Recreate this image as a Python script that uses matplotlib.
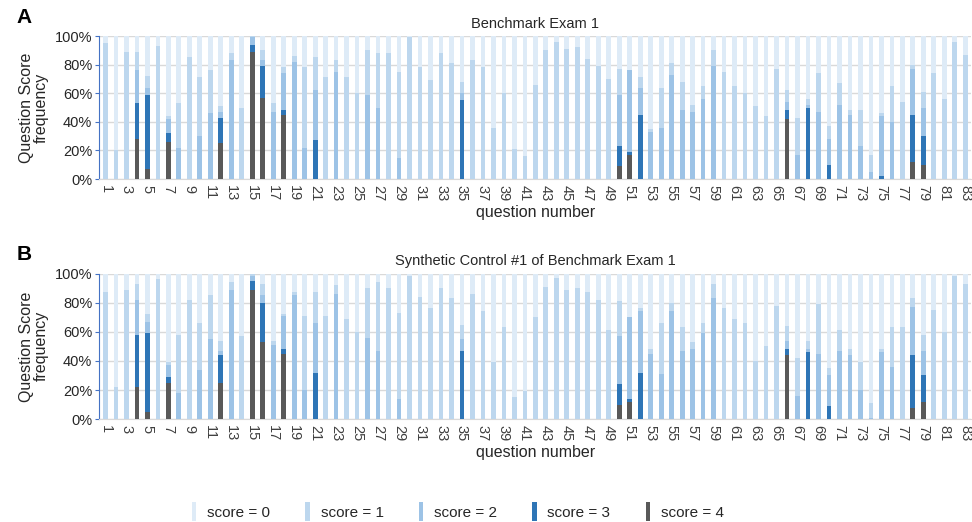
import matplotlib
matplotlib.use("Agg")
import matplotlib.pyplot as plt
from matplotlib.patches import Patch
import numpy as np

plt.rcParams["font.family"] = ["Liberation Sans", "DejaVu Sans"]

questions = list(range(1, 84))
score_labels = ["score = 0", "score = 1", "score = 2", "score = 3", "score = 4"]
colors = ["#deebf7", "#bdd7ee", "#9dc3e6", "#2e75b6", "#595959"]

# % of students per question, panel A (Benchmark Exam 1)
a_s4 = [0, 0, 0, 28, 7, 0, 26, 0, 0, 0, 0, 25, 0, 0, 89, 57, 0, 45, 0, 0,
        0, 0, 0, 0, 0, 0, 0, 0, 0, 0, 0, 0, 0, 0, 0, 0, 0, 0, 0, 0,
        0, 0, 0, 0, 0, 0, 0, 0, 0, 9, 17, 0, 0, 0, 0, 0, 0, 0, 0, 0,
        0, 0, 0, 0, 0, 42, 0, 0, 0, 0, 0, 0, 0, 0, 0, 0, 0, 12, 10, 0,
        0, 0, 0]
a_s3 = [0, 0, 0, 25, 52, 0, 6, 0, 0, 0, 0, 18, 0, 0, 5, 22, 0, 3, 0, 0,
        27, 0, 0, 0, 0, 0, 0, 0, 0, 0, 0, 0, 0, 0, 55, 0, 0, 0, 0, 0,
        0, 0, 0, 0, 0, 0, 0, 0, 0, 14, 2, 45, 0, 0, 0, 0, 0, 0, 0, 0,
        0, 0, 0, 0, 0, 6, 0, 50, 0, 10, 0, 0, 0, 0, 2, 0, 0, 33, 20, 0,
        0, 0, 0]
a_s2 = [0, 0, 0, 23, 5, 0, 10, 22, 0, 30, 46, 4, 83, 0, 5, 4, 47, 26, 82, 22,
        35, 0, 75, 0, 0, 59, 50, 0, 15, 0, 0, 0, 0, 0, 5, 0, 0, 0, 0, 0,
        0, 0, 0, 0, 0, 0, 0, 0, 0, 36, 57, 19, 33, 36, 73, 48, 47, 56, 79, 0,
        0, 0, 0, 0, 0, 6, 17, 2, 47, 18, 52, 45, 23, 5, 42, 40, 0, 32, 20, 0,
        0, 0, 0]
a_s1 = [95, 20, 89, 13, 8, 93, 2, 31, 85, 41, 30, 4, 5, 50, 1, 7, 6, 4, 4, 56,
        23, 71, 8, 71, 60, 31, 38, 88, 60, 99, 78, 69, 88, 81, 8, 83, 78, 36, 60, 21,
        16, 66, 90, 96, 91, 92, 84, 79, 70, 18, 0, 7, 2, 28, 8, 20, 5, 9, 11, 75,
        65, 60, 51, 44, 77, 8, 26, 4, 27, 9, 15, 3, 25, 12, 2, 25, 54, 3, 11, 74,
        56, 96, 87]

# panel B (Synthetic Control #1)
b_s4 = [0, 0, 0, 22, 5, 0, 25, 0, 0, 0, 0, 25, 0, 0, 89, 53, 0, 45, 0, 0,
        0, 0, 0, 0, 0, 0, 0, 0, 0, 0, 0, 0, 0, 0, 0, 0, 0, 0, 0, 0,
        0, 0, 0, 0, 0, 0, 0, 0, 0, 10, 12, 0, 0, 0, 0, 0, 0, 0, 0, 0,
        0, 0, 0, 0, 0, 44, 0, 0, 0, 0, 0, 0, 0, 0, 0, 0, 0, 8, 12, 0,
        0, 0, 0]
b_s3 = [0, 0, 0, 36, 54, 0, 4, 0, 0, 0, 0, 19, 0, 0, 6, 27, 0, 3, 0, 0,
        32, 0, 0, 0, 0, 0, 0, 0, 0, 0, 0, 0, 0, 0, 47, 0, 0, 0, 0, 0,
        0, 0, 0, 0, 0, 0, 0, 0, 0, 14, 2, 32, 0, 0, 0, 0, 0, 0, 0, 0,
        0, 0, 0, 0, 0, 4, 0, 46, 0, 9, 0, 0, 0, 0, 0, 0, 0, 36, 18, 0,
        0, 0, 0]
b_s2 = [0, 0, 0, 24, 8, 0, 8, 18, 0, 34, 55, 3, 89, 0, 3, 5, 51, 23, 85, 20,
        34, 0, 86, 0, 0, 56, 47, 0, 14, 0, 0, 0, 0, 0, 8, 0, 0, 0, 0, 0,
        0, 0, 0, 0, 0, 0, 0, 0, 0, 33, 56, 42, 45, 31, 74, 47, 48, 59, 83, 0,
        0, 0, 0, 0, 0, 6, 16, 2, 45, 21, 47, 44, 20, 1, 46, 36, 0, 33, 17, 0,
        0, 0, 0]
b_s1 = [87, 22, 89, 11, 5, 96, 2, 40, 82, 32, 30, 7, 5, 57, 2, 8, 3, 1, 2, 51,
        21, 71, 6, 69, 60, 34, 47, 90, 59, 98, 84, 76, 90, 83, 10, 86, 74, 39, 63, 15,
        19, 70, 91, 97, 89, 90, 87, 82, 61, 24, 0, 2, 3, 35, 6, 16, 5, 7, 10, 76,
        69, 66, 40, 50, 78, 10, 26, 6, 34, 5, 14, 4, 19, 10, 2, 27, 63, 6, 11, 75,
        60, 98, 93]

panels = [
    ("A", "Benchmark Exam 1", [a_s4, a_s3, a_s2, a_s1], [0.102, 0.657, 0.897, 0.274]),
    ("B", "Synthetic Control #1 of Benchmark Exam 1", [b_s4, b_s3, b_s2, b_s1],
     [0.102, 0.197, 0.897, 0.279]),
]

fig = plt.figure(figsize=(9.72, 5.22), dpi=100)
x = np.array(questions)
for letter, title, (s4, s3, s2, s1), rect in panels:
    ax = fig.add_axes(rect)
    s0 = 100 - (np.array(s4) + np.array(s3) + np.array(s2) + np.array(s1))  # remainder to 100%
    stack = [s4, s3, s2, s1, s0]
    order_colors = [colors[4], colors[3], colors[2], colors[1], colors[0]]
    bottom = np.zeros(len(x))
    for vals, c in zip(stack, order_colors):
        ax.bar(x, vals, bottom=bottom, width=0.45, color=c, zorder=3)
        bottom += np.array(vals)
    ax.set_xlim(0.4, 83.55)
    ax.set_ylim(0, 100)
    ax.set_yticks(range(0, 101, 20))
    ax.set_yticklabels([f"{v}%" for v in range(0, 101, 20)])
    ax.set_xticks(questions[::2])
    ax.set_xticklabels([str(q) for q in questions[::2]], rotation=-90)
    ax.tick_params(axis="x", length=0, pad=4, labelsize=10.5, labelcolor="#404040")
    ax.tick_params(axis="y", length=3, color="#4472c4", labelsize=10.5,
                   labelcolor="#262626", pad=2)
    ax.grid(axis="y", color="#d9d9d9", lw=1, zorder=0)
    for s in ("top", "right"):
        ax.spines[s].set_visible(False)
    ax.spines["left"].set_color("#4472c4")
    ax.spines["bottom"].set_color("#d9d9d9")
    ax.set_title(title, fontsize=10.5, color="#262626", pad=6)
    ax.set_xlabel("question number", fontsize=11.5, color="#262626", labelpad=3)
    ax.set_ylabel("Question Score\nfrequency", fontsize=11.5, color="#262626",
                  labelpad=4, linespacing=1.0)
    ax.text(-0.095, 1.13, letter, transform=ax.transAxes, fontsize=15,
            fontweight="bold", ha="left", va="center")

handles = [Patch(facecolor=c, edgecolor="none") for c in colors]
fig.legend(handles, score_labels, loc="center", bbox_to_anchor=(0.471, 0.02),
           ncol=5, frameon=False, fontsize=11, handlelength=0.3,
           handleheight=1.5, handletextpad=0.7, columnspacing=2.3,
           labelcolor="#262626")

fig.savefig("out.png", dpi=100)
